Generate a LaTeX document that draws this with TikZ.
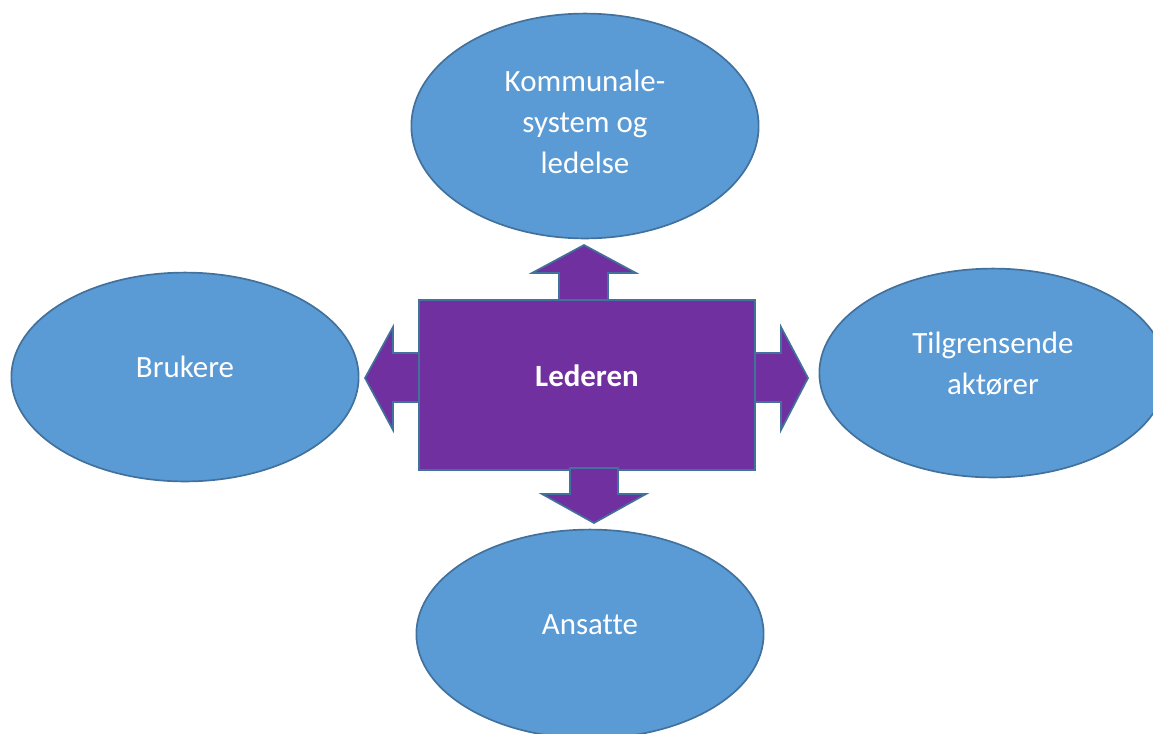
\documentclass[tikz,border=0pt]{standalone}
\usepackage{fontspec}
\setmainfont[Ligatures=NoCommon]{Carlito}
\usepackage{tikz}
\usetikzlibrary{shapes, positioning}

\definecolor{bubblefill}{HTML}{5B9BD5}
\definecolor{edgeblue}{HTML}{41719C}
\definecolor{leadpurple}{HTML}{7030A0}

\begin{document}
\begin{tikzpicture}[x=0.025cm,y=-0.025cm,
	bubble/.style={ellipse,draw=edgeblue,fill=bubblefill,line width=1.2pt,
		text=white,align=center,text depth=14pt,inner sep=0pt,
		minimum width=8.68cm,minimum height=5.22cm,
		font=\fontsize{22}{29}\selectfont},
	leadbox/.style={rectangle,draw=edgeblue,fill=leadpurple,line width=1.2pt,
		text=white,text depth=14pt,minimum width=8.4cm,minimum height=4.25cm,
		font=\fontsize{22}{29}\selectfont\bfseries},
	blockarrow/.style={draw=edgeblue,fill=leadpurple,line width=1.2pt,line join=miter}]
	\clip (0,0) rectangle (1153,733);
	% the four partners
	\node[bubble,minimum height=5.62cm,text depth=6pt] (kommune) at (585,126) {Kommunale-\\system og\\ledelse};
	\node[bubble] (brukere) at (185,377) {Brukere};
	\node[bubble] (aktorer) at (993,373) {Tilgrensende\\aktører};
	\node[bubble] (ansatte) at (590,634) {Ansatte};
	% arrows behind the leader
	\draw[blockarrow] (559,302) -- (559,273) -- (532,273) -- (584,245) -- (636,273) -- (608,273) -- (608,302) -- cycle;
	\draw[blockarrow] (421,353) -- (393,353) -- (393,327) -- (365,378) -- (393,430) -- (393,402) -- (421,402) -- cycle;
	\draw[blockarrow] (753,353) -- (781,353) -- (781,327) -- (808,378) -- (781,430) -- (781,402) -- (753,402) -- cycle;
	\node[leadbox] (leder) at (587,385) {Lederen};
	\draw[blockarrow] (570,468) -- (570,494) -- (542,494) -- (594,523) -- (646,494) -- (618,494) -- (618,468) -- cycle;
\end{tikzpicture}
\end{document}
